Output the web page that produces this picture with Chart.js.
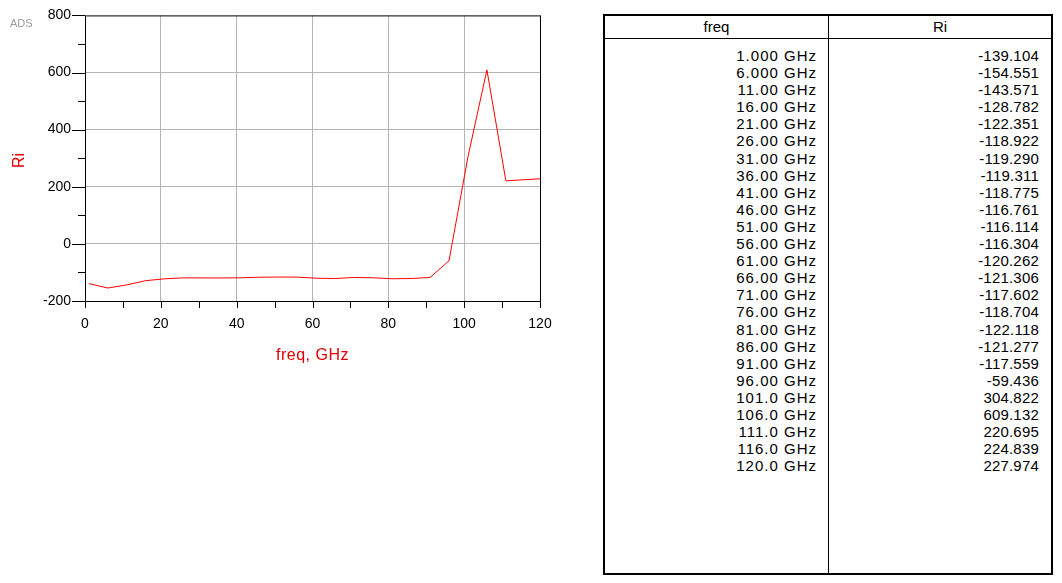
<!DOCTYPE html>
<html>
<head>
<meta charset="utf-8">
<script src="https://cdn.jsdelivr.net/npm/chart.js@4.4.1/dist/chart.umd.min.js"></script>
<style>
  body { margin: 0; background: #fff; font-family: "Liberation Sans", Arial, sans-serif; }
  #wrap { position: relative; width: 1062px; height: 583px; overflow: hidden; }
  #plot { position: absolute; left: 0; top: -7px; }
  .lbl { position: absolute; font-family: "Liberation Sans", Arial, sans-serif; white-space: nowrap; }
  #tbl { position: absolute; left: 603px; top: 14px; width: 450px; height: 561px;
         border: 2px solid #000; box-sizing: border-box; font-size: 15px; }
  #tbl .head { position: absolute; left: 0; right: 0; top: 0; height: 22px; border-bottom: 1px solid #000; }
  #tbl .divider { position: absolute; left: 223px; top: 0; bottom: 0; border-left: 1px solid #000; }
  #tbl .h { position: absolute; top: 0; line-height: 22px; text-align: center; }
  #tbl .col { position: absolute; top: 31px; line-height: 17.1px; text-align: right; white-space: pre; }
</style>
</head>
<body>
<div id="wrap">
  <canvas id="plot" width="580" height="400"></canvas>
  <div class="lbl" style="left:10px;top:17px;font-size:11px;color:#9a9a9a;">ADS</div>
  <div class="lbl" style="left:9px;top:149px;font-size:16px;color:#e00000;transform:rotate(-90deg);transform-origin:10px 9px;">Ri</div>
  <div class="lbl" style="left:276px;top:346px;font-size:16px;letter-spacing:0.5px;color:#e00000;">freq, GHz</div>
  <div id="tbl">
    <div class="head"></div>
    <div class="divider"></div>
    <div class="h" style="left:0;width:223px;">freq</div>
    <div class="h" style="left:224px;width:222px;">Ri</div>
    <div class="col" id="freqCol" style="left:0;width:212px;letter-spacing:1px;"></div>
    <div class="col" id="riCol" style="left:224px;width:210px;letter-spacing:0.2px;"></div>
  </div>
</div>
<script>
// sweep points (GHz) and the Ri values from the listing
const freqGHz = [1, 6, 11, 16, 21, 26, 31, 36, 41, 46, 51, 56, 61, 66, 71, 76, 81, 86, 91, 96, 101, 106, 111, 116, 120];
const riValues = [-139.104, -154.551, -143.571, -128.782, -122.351, -118.922, -119.290, -119.311, -118.775, -116.761,
                  -116.114, -116.304, -120.262, -121.306, -117.602, -118.704, -122.118, -121.277, -117.559, -59.436,
                  304.822, 609.132, 220.695, 224.839, 227.974];
const xTicks = [0, 20, 40, 60, 80, 100, 120];
const yTicks = [-200, 0, 200, 400, 600, 800];

// table
document.getElementById('freqCol').textContent = freqGHz.map(f => f.toPrecision(4) + ' GHz').join('\n');
document.getElementById('riCol').textContent = riValues.map(v => v.toFixed(3)).join('\n');

const gridGray = '#b4b4b4';

// outer box + tick marks (short minors, longer majors on y)
const frameTicks = {
  id: 'frameTicks',
  afterDraw(chart) {
    const { ctx, chartArea: a, scales } = chart;
    ctx.save();
    ctx.strokeStyle = '#000';
    ctx.lineWidth = 1;
    ctx.strokeRect(a.left + 0.5, a.top + 0.5, a.right - a.left, a.bottom - a.top);
    ctx.beginPath();
    scales.y.ticks.forEach(t => {
      const y = Math.round(scales.y.getPixelForValue(t.value)) + 0.5;
      const len = yTicks.includes(t.value) ? 13 : 7;
      ctx.moveTo(a.left - len, y);
      ctx.lineTo(a.left, y);
    });
    scales.x.ticks.forEach(t => {
      const x = Math.round(scales.x.getPixelForValue(t.value)) + 0.5;
      ctx.moveTo(x, a.bottom);
      ctx.lineTo(x, a.bottom + 7);
    });
    ctx.stroke();
    ctx.restore();
  }
};

new Chart(document.getElementById('plot'), {
  type: 'line',
  data: {
    datasets: [{
      data: freqGHz.map((f, i) => ({ x: f, y: riValues[i] })),
      borderColor: '#ff0000',
      borderWidth: 1,
      pointRadius: 0,
      tension: 0,
      fill: false
    }]
  },
  options: {
    responsive: false,
    devicePixelRatio: 1,
    animation: false,
    layout: { padding: { left: 0, top: 7, right: 40, bottom: 0 } },
    plugins: { legend: { display: false }, tooltip: { enabled: false } },
    scales: {
      x: {
        type: 'linear', min: 0, max: 120,
        afterFit: s => { s.height = 92; },
        border: { display: false },
        grid: {
          drawTicks: false,
          color: c => (xTicks.includes(c.tick.value) && c.tick.value !== 0 && c.tick.value !== 120) ? gridGray : 'transparent'
        },
        ticks: {
          stepSize: 10, autoSkip: false, maxRotation: 0, padding: 15,
          color: '#000', font: { family: 'Liberation Sans', size: 14 },
          callback: v => xTicks.includes(v) ? String(v) : ''
        }
      },
      y: {
        type: 'linear', min: -200, max: 800,
        afterFit: s => { s.width = 85; },
        border: { display: false },
        grid: {
          drawTicks: false,
          color: c => (yTicks.includes(c.tick.value) && c.tick.value !== -200 && c.tick.value !== 800) ? gridGray : 'transparent'
        },
        ticks: {
          stepSize: 100, autoSkip: false, padding: 14,
          color: '#000', font: { family: 'Liberation Sans', size: 14 },
          callback: v => yTicks.includes(v) ? String(v) : ''
        }
      }
    }
  },
  plugins: [frameTicks]
});
</script>
</body>
</html>
